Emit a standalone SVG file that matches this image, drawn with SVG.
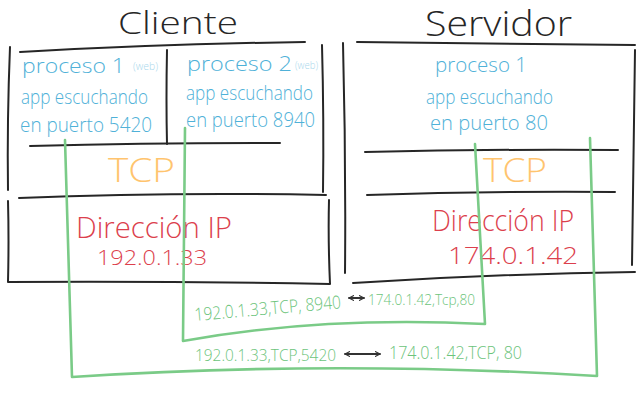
<svg xmlns="http://www.w3.org/2000/svg" width="640" height="400" viewBox="0 0 640 400">
<style>
  .ink{fill:none;stroke:#262626;stroke-width:2;stroke-linecap:round;stroke-linejoin:round}
  .wire{fill:none;stroke:#7acb87;stroke-width:2.6;stroke-linecap:round;stroke-linejoin:round}
  .arr{fill:none;stroke:#333333;stroke-width:1.8;stroke-linecap:round;marker-start:url(#chev);marker-end:url(#chev)}
  text{font-family:"Open Sans","Liberation Sans",sans-serif;font-weight:300}
  .title{fill:#262626;font-size:32px}
  .proc{fill:#4fb1d8;font-size:20px}
  .web{fill:#a9d7ec;font-size:11px}
  .tcp{fill:#ffc46e;font-size:33px}
  .ip{fill:#dc3f4d;font-size:29px}
  .addr{fill:#dc3f4d;font-size:20px}
  .lbl{fill:#6cc47b}
</style>
<defs>
  <marker id="chev" viewBox="0 0 10 10" refX="9" refY="5" markerWidth="6" markerHeight="6" markerUnits="userSpaceOnUse" orient="auto-start-reverse">
    <path d="M1,1 L9,5 L1,9" fill="none" stroke="#333333" stroke-width="1.8" stroke-linecap="round" stroke-linejoin="round"/>
  </marker>
</defs>
<rect width="640" height="400" fill="#ffffff"/>

<g id="cliente">
  <text class="title" x="118" y="34" textLength="120" lengthAdjust="spacingAndGlyphs">Cliente</text>
  <path class="ink" d="M20,52 Q160,44 305,42"/>
  <path class="ink" d="M10,47 Q7,120 8,190"/>
  <path class="ink" d="M322,45 Q324,120 323,192"/>
  <path class="ink" d="M167,50 Q166,100 167,144"/>
  <path class="ink" d="M30,146 Q150,143 280,143"/>
  <path class="ink" d="M19,198 Q170,192 326,195"/>
  <path class="ink" d="M8,201 Q9,240 8,282 Q170,281 330,284 Q328,240 329,200"/>
  <g id="cliente-proceso1">
    <text class="proc" x="22" y="73" textLength="103" lengthAdjust="spacingAndGlyphs">proceso 1</text>
    <text class="web" x="133" y="70" textLength="25" lengthAdjust="spacingAndGlyphs">(web)</text>
    <text class="proc" x="21" y="104" textLength="127" lengthAdjust="spacingAndGlyphs">app escuchando</text>
    <text class="proc" x="20" y="132" textLength="132" lengthAdjust="spacingAndGlyphs">en puerto 5420</text>
  </g>
  <g id="cliente-proceso2">
    <text class="proc" x="187" y="71" textLength="105" lengthAdjust="spacingAndGlyphs">proceso 2</text>
    <text class="web" x="295" y="69" textLength="23" lengthAdjust="spacingAndGlyphs">(web)</text>
    <text class="proc" x="186" y="100" textLength="127" lengthAdjust="spacingAndGlyphs">app escuchando</text>
    <text class="proc" x="186" y="127" textLength="129" lengthAdjust="spacingAndGlyphs">en puerto 8940</text>
  </g>
  <g id="cliente-tcp">
    <text class="tcp" x="108" y="182" textLength="67" lengthAdjust="spacingAndGlyphs">TCP</text>
  </g>
  <g id="cliente-ip">
    <text class="ip" x="76" y="238" textLength="156" lengthAdjust="spacingAndGlyphs">Dirección IP</text>
    <text class="addr" x="97" y="265" textLength="110" lengthAdjust="spacingAndGlyphs">192.0.1.33</text>
  </g>
</g>

<g id="servidor">
  <text class="title" x="425" y="36" style="font-size:34px" textLength="147" lengthAdjust="spacingAndGlyphs">Servidor</text>
  <path class="ink" d="M357,42 Q500,44 635,45"/>
  <path class="ink" d="M343,43 Q346,160 345,273"/>
  <path class="ink" d="M635,50 Q633,160 632,265"/>
  <path class="ink" d="M365,152 Q490,149 618,150"/>
  <path class="ink" d="M367,195 Q490,191 615,192"/>
  <path class="ink" d="M353,283 Q490,274 635,272"/>
  <g id="servidor-proceso1">
    <text class="proc" x="435" y="72" textLength="92" lengthAdjust="spacingAndGlyphs">proceso 1</text>
    <text class="proc" x="426" y="104" textLength="127" lengthAdjust="spacingAndGlyphs">app escuchando</text>
    <text class="proc" x="430" y="130" textLength="118" lengthAdjust="spacingAndGlyphs">en puerto  80</text>
  </g>
  <g id="servidor-tcp">
    <text class="tcp" x="483" y="182" textLength="64" lengthAdjust="spacingAndGlyphs">TCP</text>
  </g>
  <g id="servidor-ip">
    <text class="ip" x="432" y="231" textLength="142" lengthAdjust="spacingAndGlyphs">Dirección IP</text>
    <text class="addr" x="448" y="264" style="font-size:23px" textLength="130" lengthAdjust="spacingAndGlyphs">174.0.1.42</text>
  </g>
</g>

<g id="connectors">
  <path class="wire" d="M65,140 L72,377 Q330,360 597,376 L590,138"/>
  <path class="wire" d="M185,128 L183,341 Q320,316 485,324 L475,144"/>
  <g id="label-8940">
    <text class="lbl" x="195" y="321" style="font-size:18px" transform="rotate(-5 195 321)" textLength="147" lengthAdjust="spacingAndGlyphs">192.0.1.33,TCP, 8940</text>
    <path class="arr" d="M349,298 L364,298"/>
    <text class="lbl" x="368" y="305" style="font-size:14px" textLength="107" lengthAdjust="spacingAndGlyphs">174.0.1.42,Tcp,80</text>
  </g>
  <g id="label-5420">
    <text class="lbl" x="195" y="361" style="font-size:17px" textLength="141" lengthAdjust="spacingAndGlyphs">192.0.1.33,TCP,5420</text>
    <path class="arr" d="M345,354 L380,354"/>
    <text class="lbl" x="389" y="359" style="font-size:19px" textLength="133" lengthAdjust="spacingAndGlyphs">174.0.1.42,TCP, 80</text>
  </g>
</g>
</svg>
